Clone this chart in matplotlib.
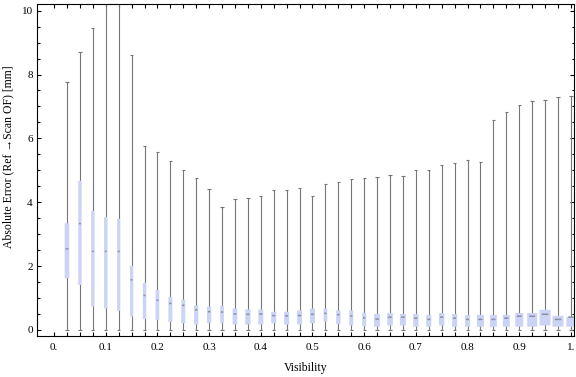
import numpy as np
import matplotlib
matplotlib.use("Agg")
import matplotlib.pyplot as plt

plt.rcParams['font.family'] = ['Liberation Serif', 'DejaVu Serif']

# Visibility bins (box centres)
visibility = [0.025, 0.05, 0.075, 0.1, 0.125, 0.15, 0.175, 0.2, 0.225, 0.25,
              0.275, 0.3, 0.325, 0.35, 0.375, 0.4, 0.425, 0.45, 0.475, 0.5,
              0.525, 0.55, 0.575, 0.6, 0.625, 0.65, 0.675, 0.7, 0.725, 0.75,
              0.775, 0.8, 0.825, 0.85, 0.875, 0.9, 0.925, 0.95, 0.975, 1.0]

# whisker ends
w_lo = [0.0, 0.0, 0.0, 0.0, 0.0, 0.0, 0.0, 0.0, 0.0, 0.0,
        0.0, 0.0, 0.0, 0.0, 0.0, 0.0, 0.0, 0.0, 0.0, 0.0,
        0.0, 0.0, 0.0, 0.0, 0.0, 0.0, 0.0, 0.0, 0.0, 0.0,
        0.0, 0.0, 0.0, 0.0, 0.0, 0.0, 0.0, 0.0, 0.0, 0.0]
w_hi = [7.76, 8.70, 9.46, 10.8, 11.2, 8.62, 5.77, 5.57, 5.29, 5.02,
        4.76, 4.42, 3.86, 4.11, 4.14, 4.20, 4.39, 4.39, 4.45, 4.20,
        4.56, 4.64, 4.73, 4.76, 4.79, 4.86, 4.83, 5.01, 5.01, 5.17,
        5.22, 5.32, 5.26, 6.58, 6.82, 7.04, 7.18, 7.21, 7.29, 7.33]

# quartiles and medians
q1 = [1.62, 1.41, 0.73, 0.67, 0.60, 0.42, 0.34, 0.31, 0.25, 0.21,
      0.17, 0.21, 0.21, 0.17, 0.17, 0.17, 0.21, 0.17, 0.17, 0.21,
      0.26, 0.18, 0.14, 0.11, 0.10, 0.14, 0.14, 0.10, 0.10, 0.14,
      0.10, 0.10, 0.10, 0.10, 0.10, 0.10, 0.10, 0.14, 0.10, 0.10]
med = [2.54, 3.33, 2.46, 2.46, 2.46, 1.57, 1.08, 0.93, 0.83, 0.77,
       0.63, 0.57, 0.56, 0.50, 0.49, 0.50, 0.45, 0.44, 0.45, 0.49,
       0.52, 0.48, 0.44, 0.38, 0.34, 0.40, 0.40, 0.37, 0.33, 0.40,
       0.37, 0.33, 0.33, 0.33, 0.37, 0.43, 0.43, 0.49, 0.33, 0.40]
q3 = [3.34, 4.67, 3.73, 3.54, 3.48, 2.01, 1.47, 1.25, 1.03, 0.95,
      0.77, 0.73, 0.76, 0.67, 0.64, 0.64, 0.57, 0.57, 0.61, 0.67,
      0.67, 0.61, 0.61, 0.54, 0.50, 0.53, 0.50, 0.50, 0.47, 0.53,
      0.50, 0.47, 0.47, 0.47, 0.47, 0.53, 0.53, 0.63, 0.44, 0.41]

# box widths (visibility units)
box_w = [0.0091, 0.0064, 0.0064, 0.0064, 0.0058, 0.0058, 0.0064, 0.0072, 0.0077, 0.0077,
         0.0083, 0.0083, 0.0072, 0.0091, 0.0103, 0.0097, 0.0097, 0.0097, 0.0097, 0.0097,
         0.0072, 0.0083, 0.0077, 0.0077, 0.0116, 0.0110, 0.0116, 0.0103, 0.0097, 0.0103,
         0.0097, 0.0097, 0.0135, 0.0135, 0.0135, 0.0155, 0.0193, 0.0213, 0.0213, 0.0174]

x_ticks = np.arange(0, 1.0001, 0.025)
x_labels = ['0.', '0.1', '0.2', '0.3', '0.4', '0.5', '0.6', '0.7', '0.8', '0.9', '1.']

fig = plt.figure(figsize=(5.76, 3.77), dpi=100)
ax = fig.add_axes([37/576, 1-336/377, (574-37)/576, (336-4.3)/377])

x = np.array(visibility)
w = np.array(box_w)
cap = 0.0064
gray = '#767676'

# whiskers and caps
ax.vlines(x, w_lo, w_hi, color=gray, lw=0.8, zorder=2)
ax.hlines(w_lo, x - cap/2, x + cap/2, color=gray, lw=0.8, zorder=2)
ax.hlines(w_hi, x - cap/2, x + cap/2, color=gray, lw=0.8, zorder=2)

# boxes
ax.bar(x, np.array(q3) - np.array(q1), bottom=q1, width=w,
       color='#ccd4f5', edgecolor='none', zorder=3, snap=False)

# median marks
half = np.maximum(w*0.3, 0.0019)
ax.hlines(med, x - half, x + half, color='#8c8ea4', lw=1.1, zorder=4, snap=False)

ax.set_xlim(-0.033, 1.006)
ax.set_ylim(-0.19, 10.2)

ax.set_xticks(x_ticks)
ax.set_xticklabels([x_labels[i // 4] if i % 4 == 0 else '' for i in range(len(x_ticks))])
ax.set_yticks([0, 2, 4, 6, 8, 10])
ax.set_yticks(np.arange(0, 10.01, 0.5), minor=True)

ax.tick_params(axis='both', which='both', direction='in', top=True, right=True,
               labelsize=8, width=0.8)
ax.tick_params(axis='x', which='major', length=3, pad=5)
ax.tick_params(axis='y', which='major', length=3.2, pad=3)
ax.tick_params(axis='y', which='minor', length=1.8)
ax.tick_params(axis='x', which='minor', bottom=False, top=False)

for s in ax.spines.values():
    s.set_linewidth(0.8)

ax.set_xlabel('Visibility', fontsize=8.5, labelpad=7)
ax.set_ylabel('Absolute Error (Ref \u2192Scan OF) [mm]', fontsize=8.5)
ax.yaxis.set_label_coords(-0.043, 0.54)

fig.savefig('out.png', dpi=100)
